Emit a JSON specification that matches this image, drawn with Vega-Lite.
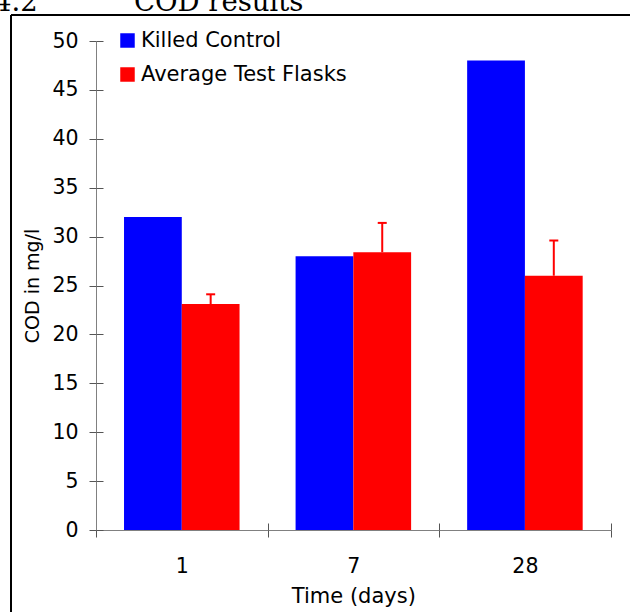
{
  "$schema": "https://vega.github.io/schema/vega-lite/v6.json",
  "width": 619,
  "height": 597,
  "autosize": {"type": "none"},
  "padding": {"left": 11, "top": 15, "right": 0, "bottom": 0},
  "background": "white",
  "config": {
    "view": {"stroke": "black", "strokeWidth": 2, "strokeDash": [619, 1216, 597, 0]},
    "font": "DejaVu Sans",
    "axis": {"labelColor": "black", "titleColor": "black", "titleFontWeight": "normal", "labelFontSize": 20.5, "titleFontSize": 21, "grid": false}
  },
  "title": {
    "text": "4.2\u00a0\u00a0\u00a0\u00a0\u00a0\u00a0\u00a0\u00a0\u00a0\u00a0\u00a0COD results",
    "font": "DejaVu Serif",
    "fontSize": 27.5,
    "fontWeight": "normal",
    "anchor": "start",
    "frame": "group",
    "baseline": "alphabetic",
    "dx": -17,
    "offset": -23,
    "color": "black"
  },
  "data": {
    "values": [
      {"day": "1", "series": "Killed Control", "cod": 32},
      {"day": "1", "series": "Average Test Flasks", "cod": 23.1, "upper": 24.1},
      {"day": "7", "series": "Killed Control", "cod": 28},
      {"day": "7", "series": "Average Test Flasks", "cod": 28.4, "upper": 31.4},
      {"day": "28", "series": "Killed Control", "cod": 48},
      {"day": "28", "series": "Average Test Flasks", "cod": 26, "upper": 29.6}
    ]
  },
  "resolve": {"axis": {"x": "independent", "y": "independent"}},
  "layer": [
    {
      "mark": {"type": "bar"},
      "encoding": {
        "x": {
          "field": "day", "type": "ordinal", "sort": ["1", "7", "28"],
          "scale": {"range": [85, 599.7], "paddingInner": 0, "paddingOuter": 0},
          "axis": {"orient": "bottom", "offset": -82, "tickBand": "extent", "tickSize": 7, "tickColor": "#555555", "domainColor": "#808080", "labelAngle": 0, "labelPadding": 19, "title": "Time (days)", "titlePadding": 9}
        },
        "xOffset": {
          "field": "series", "sort": ["Killed Control", "Average Test Flasks"],
          "scale": {"paddingInner": 0, "paddingOuter": 0.485}
        },
        "y": {
          "field": "cod", "type": "quantitative",
          "scale": {"domain": [0, 50], "range": [515, 26], "nice": false, "zero": true},
          "axis": {"orient": "left", "offset": -85, "values": [0, 5, 10, 15, 20, 25, 30, 35, 40, 45, 50], "tickSize": 7, "tickColor": "#555555", "domainColor": "#808080", "labelPadding": 11, "title": "COD in mg/l", "titleFontSize": 19, "titlePadding": 9}
        },
        "color": {
          "field": "series", "type": "nominal",
          "scale": {"domain": ["Killed Control", "Average Test Flasks"], "range": ["#0000FF", "#FF0000"]},
          "legend": {"orient": "none", "legendX": 106, "legendY": 15, "title": null, "symbolType": "square", "symbolSize": 210, "symbolStrokeWidth": 0, "symbolOpacity": 1, "labelFontSize": 21, "labelColor": "black", "labelLimit": 0, "rowPadding": 12, "labelOffset": 3, "padding": 0}
        }
      }
    },
    {
      "transform": [{"filter": "isValid(datum.upper)"}],
      "mark": {"type": "rule", "color": "#FF0000", "strokeWidth": 2},
      "encoding": {
        "x": {
          "field": "day", "type": "ordinal", "sort": ["1", "7", "28"],
          "axis": {"orient": "bottom", "offset": -82, "tickBand": "extent", "tickSize": -7, "tickColor": "#555555", "domain": false, "labels": false, "title": null}
        },
        "xOffset": {"field": "series", "sort": ["Killed Control", "Average Test Flasks"]},
        "y": {
          "field": "cod", "type": "quantitative",
          "axis": {"orient": "left", "offset": -85, "values": [0, 5, 10, 15, 20, 25, 30, 35, 40, 45, 50], "tickSize": -7, "tickColor": "#555555", "domain": false, "labels": false, "title": null}
        },
        "y2": {"field": "upper"}
      }
    },
    {
      "transform": [{"filter": "isValid(datum.upper)"}],
      "mark": {"type": "tick", "orient": "horizontal", "color": "#FF0000", "thickness": 2, "size": 9, "opacity": 1},
      "encoding": {
        "x": {"field": "day", "type": "ordinal", "sort": ["1", "7", "28"], "axis": null},
        "xOffset": {"field": "series", "sort": ["Killed Control", "Average Test Flasks"]},
        "y": {"field": "upper", "type": "quantitative", "axis": null}
      }
    }
  ]
}
